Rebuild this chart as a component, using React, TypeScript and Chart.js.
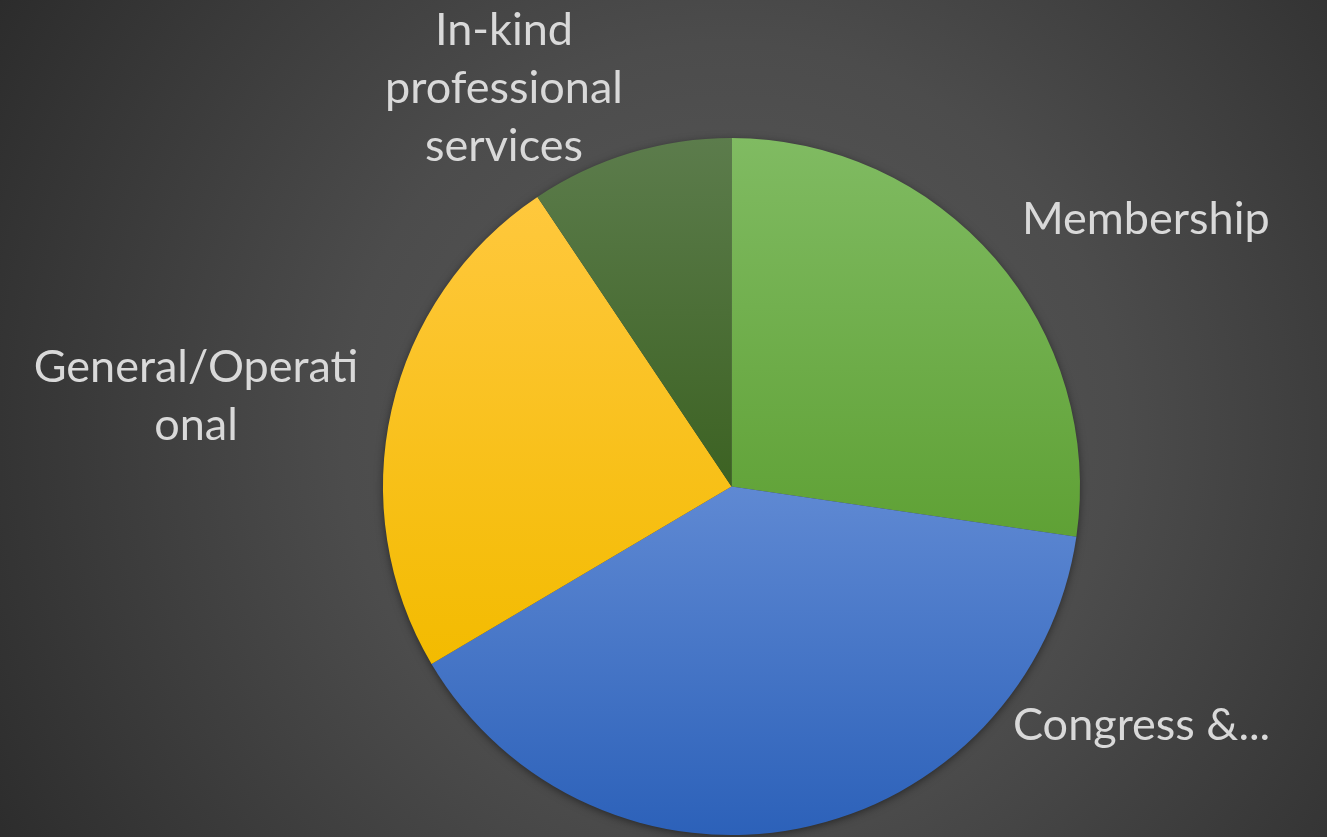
import React, { useEffect, useRef } from "react";
import { Chart, registerables } from "chart.js";

Chart.register(...registerables);

// ---- data ----
const categories = ["Membership", "Congress &...", "General/Operational", "In-kind professional services"];
const values = [27.3, 39.2, 24.1, 9.4];
const displayLines = [["Membership"], ["Congress &..."], ["General/Operati", "onal"], ["In-kind", "professional", "services"]];

// ---- styles ----
const topColors = ["#80bb62", "#5f89d3", "#ffc83d", "#5c7c4c"];
const bottomColors = ["#5fa135", "#2c61b9", "#f3bb00", "#3c6222"];
const labelColor = "#d9d9d9";
const labelFont = "45px Lato, 'Open Sans', sans-serif";
const lineHeight = 58;
const labelLayout = [
  { x: 1022, y: 234, align: "left" },
  { x: 1013, y: 740, align: "left" },
  { x: 196, y: 382, align: "center" },
  { x: 504, y: 45, align: "center" },
];

function sliceGradient(ctx: any) {
  const chart = ctx.chart;
  const i = ctx.dataIndex;
  const ca = chart.chartArea;
  if (!ca || i === undefined) return topColors[i ?? 0];
  const cx = (ca.left + ca.right) / 2;
  const cy = (ca.top + ca.bottom) / 2;
  const r = Math.min(ca.right - ca.left, ca.bottom - ca.top) / 2;
  const total = values.reduce((a, b) => a + b, 0);
  let before = 0;
  for (let k = 0; k < i; k++) before += values[k];
  const a0 = -Math.PI / 2 + (before / total) * Math.PI * 2;
  const a1 = a0 + (values[i] / total) * Math.PI * 2;
  const ys = [cy, cy + r * Math.sin(a0), cy + r * Math.sin(a1)];
  for (const t of [-Math.PI / 2, Math.PI / 2, (3 * Math.PI) / 2]) {
    if (t >= a0 && t <= a1) ys.push(cy + r * Math.sin(t));
  }
  const y0 = Math.min(...ys);
  const y1 = Math.max(...ys);
  const g = chart.ctx.createLinearGradient(0, y0, 0, y1);
  g.addColorStop(0, topColors[i]);
  g.addColorStop(1, bottomColors[i]);
  return g;
}

const bgPlugin = {
  id: "bgPlugin",
  beforeDraw(chart: any) {
    const { ctx, width, height } = chart;
    ctx.save();
    const g = ctx.createRadialGradient(730, 430, 0, 730, 430, 860);
    g.addColorStop(0, "#5a5a5a");
    g.addColorStop(0.45, "#4c4c4c");
    g.addColorStop(1, "#2b2b2b");
    ctx.fillStyle = g;
    ctx.fillRect(0, 0, width, height);
    ctx.restore();
  },
  beforeDatasetsDraw(chart: any) {
    const meta = chart.getDatasetMeta(0);
    const el = meta.data[0];
    if (!el) return;
    const { ctx } = chart;
    ctx.save();
    ctx.shadowColor = "rgba(0,0,0,0.55)";
    ctx.shadowBlur = 10;
    ctx.shadowOffsetY = 2;
    ctx.fillStyle = "#3a3a3a";
    ctx.beginPath();
    ctx.arc(el.x, el.y, el.outerRadius - 1, 0, Math.PI * 2);
    ctx.fill();
    ctx.restore();
  },
  afterDatasetsDraw(chart: any) {
    const { ctx } = chart;
    ctx.save();
    ctx.font = labelFont;
    ctx.fillStyle = labelColor;
    ctx.textBaseline = "alphabetic";
    displayLines.forEach((lines, i) => {
      const lay = labelLayout[i];
      ctx.textAlign = lay.align;
      lines.forEach((line, j) => {
        ctx.fillText(line, lay.x, lay.y + j * lineHeight);
      });
    });
    ctx.restore();
  },
};

export default function App() {
  const ref = useRef<HTMLCanvasElement | null>(null);
  useEffect(() => {
    document.body.style.margin = "0";
    const canvas = ref.current;
    if (!canvas) return;
    const chart = new Chart(canvas, {
      type: "pie",
      data: {
        labels: categories,
        datasets: [
          {
            data: values,
            backgroundColor: sliceGradient as any,
            borderWidth: 0,
          },
        ],
      },
      options: {
        animation: false,
        responsive: false,
        maintainAspectRatio: false,
        rotation: 0,
        layout: { padding: { top: 138, bottom: 2, left: 382, right: 246 } },
        plugins: {
          legend: { display: false },
          tooltip: { enabled: false },
          title: { display: false },
        },
      },
      plugins: [bgPlugin],
    });
    return () => chart.destroy();
  }, []);
  return (
    <div style={{ width: 1327, height: 837, position: "relative" }}>
      <canvas ref={ref} width={1327} height={837} style={{ display: "block", width: 1327, height: 837 }} />
    </div>
  );
}
